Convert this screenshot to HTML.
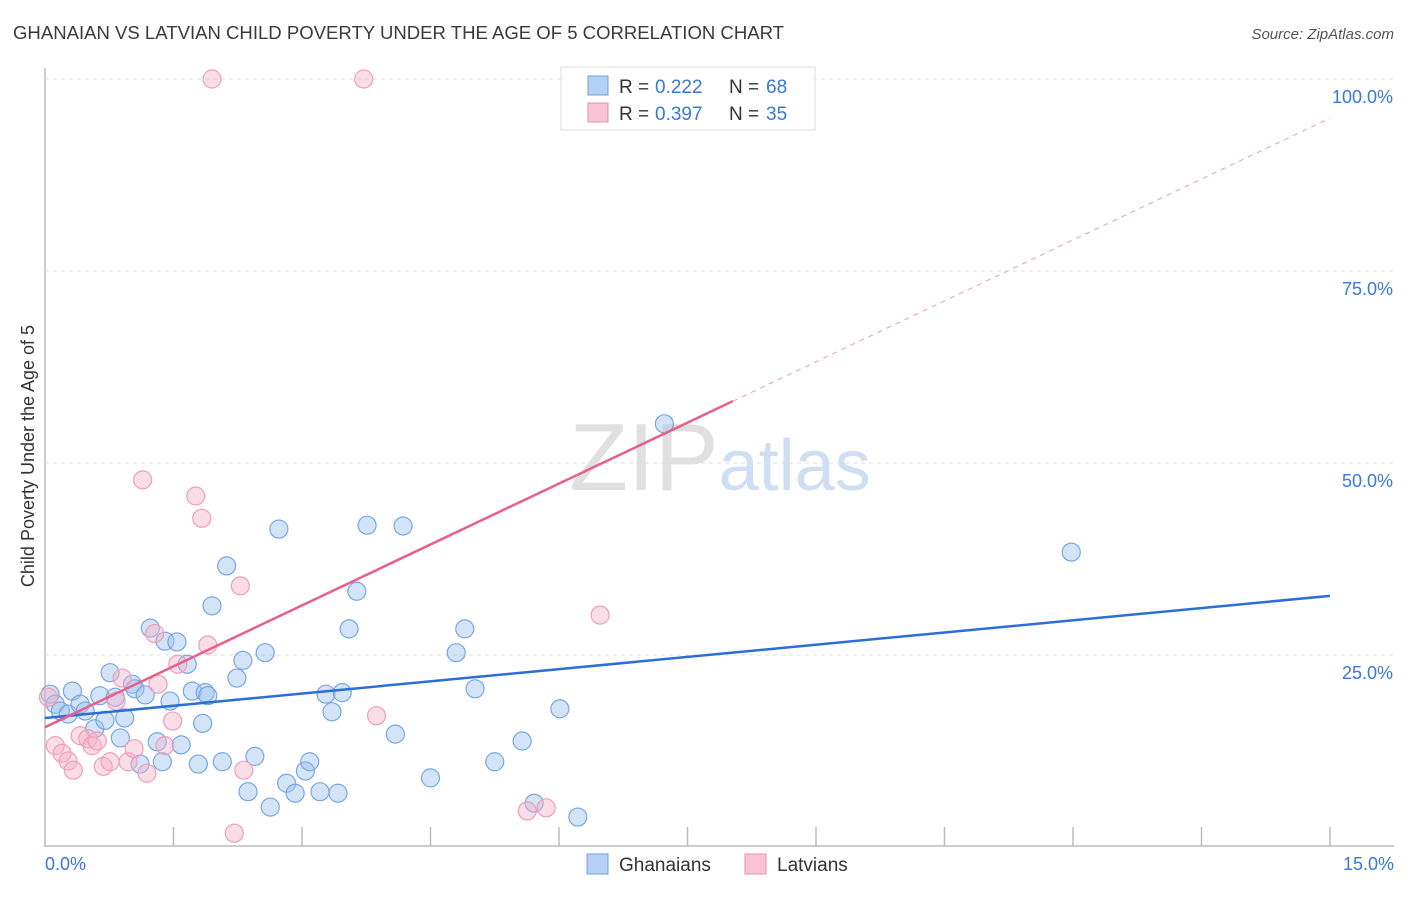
<!DOCTYPE html>
<html><head><meta charset="utf-8"><style>
body{margin:0;background:#fff;font-family:"Liberation Sans",sans-serif;}
svg text{font-family:"Liberation Sans",sans-serif;}
</style></head><body>
<svg id="chart" width="1406" height="892" xmlns="http://www.w3.org/2000/svg">
<text x="13" y="39" font-size="18" fill="#3a3a3a" textLength="771" lengthAdjust="spacingAndGlyphs">GHANAIAN VS LATVIAN CHILD POVERTY UNDER THE AGE OF 5 CORRELATION CHART</text>
<text x="1394" y="39" font-size="15" fill="#555" font-style="italic" text-anchor="end">Source: ZipAtlas.com</text>
<text x="720" y="490" font-size="96" text-anchor="middle" fill="#e0e0e0" font-family="Liberation Serif">ZIP<tspan fill="#d0def2" font-family="Liberation Sans" font-size="72">atlas</tspan></text>
<text transform="translate(34,456) rotate(-90)" font-size="18" fill="#333" text-anchor="middle">Child Poverty Under the Age of 5</text>
<g id="grid"></g><g id="marks"></g><g id="lines"></g>
<g>
<rect x="561" y="67" width="254" height="63" fill="#fff" stroke="#ddd"/>
<rect x="588" y="76" width="20" height="19" fill="#b4d0f4" stroke="#6f9fe0"/>
<rect x="588" y="103" width="20" height="19" fill="#f8c4d4" stroke="#e890aa"/>
<text x="619" y="93" font-size="19" fill="#333">R =</text>
<text x="655" y="93" font-size="19" fill="#3a78d8">0.222</text>
<text x="729" y="93" font-size="19" fill="#333">N =</text>
<text x="766" y="93" font-size="19" fill="#3a78d8">68</text>
<text x="619" y="120" font-size="19" fill="#333">R =</text>
<text x="655" y="120" font-size="19" fill="#3a78d8">0.397</text>
<text x="729" y="120" font-size="19" fill="#333">N =</text>
<text x="766" y="120" font-size="19" fill="#3a78d8">35</text>
</g>
<g>
<rect x="587" y="854" width="21" height="20" fill="#b4d0f4" stroke="#6f9fe0"/>
<text x="619" y="871" font-size="19" fill="#333">Ghanaians</text>
<rect x="745" y="854" width="21" height="20" fill="#f8c4d4" stroke="#e890aa"/>
<text x="777" y="871" font-size="19" fill="#333">Latvians</text>
</g>
</svg>
<script>
const yTicks=[25,50,75,100];
const xTickLabels=["0.0%","15.0%"];
const blueX=[0.06,0.12,0.18,0.32,0.27,0.41,0.47,0.58,0.64,0.7,0.76,0.82,0.88,0.93,1.02,1.05,1.11,1.17,1.23,1.31,1.37,1.4,1.46,1.54,1.59,1.66,1.72,1.79,1.84,1.87,1.90,1.95,2.07,2.12,2.24,2.31,2.37,2.45,2.57,2.63,2.73,2.82,2.92,3.04,3.09,3.21,3.28,3.35,3.42,3.47,3.55,3.64,3.76,4.09,4.18,4.5,4.8,4.9,5.02,5.25,5.57,5.71,6.01,6.22,7.23,11.98];
const blueY=[19.9,18.6,17.7,20.3,17.3,18.6,17.7,15.4,19.7,16.5,22.7,19.5,14.2,16.8,21.2,20.6,10.8,19.8,28.5,13.7,11.1,26.8,19.0,26.7,13.3,23.8,20.3,10.8,16.1,20.1,19.7,31.4,11.1,36.6,22.0,24.3,7.2,11.8,25.3,5.2,41.4,8.3,7.0,9.9,11.1,7.2,19.9,17.6,7.0,20.1,28.4,33.3,41.9,14.7,41.8,9.0,25.3,28.4,20.6,11.1,13.8,5.7,18.0,3.9,55.1,38.4];
const pinkX=[0.04,0.12,0.2,0.27,0.33,0.41,0.5,0.55,0.61,0.68,0.76,0.83,0.9,0.97,1.04,1.14,1.19,1.28,1.32,1.4,1.49,1.55,1.76,1.83,1.9,1.95,2.21,2.28,2.32,3.72,3.87,5.63,5.85,6.48,7.96];
const pinkY=[19.5,13.2,12.2,11.2,10.0,14.5,14.1,13.2,13.8,10.5,11.1,19.0,22.0,11.1,12.8,47.8,9.6,27.8,21.2,13.2,16.4,23.8,45.7,42.8,26.3,100,1.8,34.0,10.0,100,17.1,4.7,5.1,30.2,100];
const blueLine=[16.8,32.7];
const pinkLine=[15.6,94.9];
const xMin=0,xMax=15,yMin=0,yMax=100;
const X=v=>45+(v-xMin)/(xMax-xMin)*1285;
const Y=v=>847-(v-yMin)/(yMax-yMin)*768;
const NS="http://www.w3.org/2000/svg";
function mk(tag,attrs,parent){const e=document.createElementNS(NS,tag);for(const k in attrs)e.setAttribute(k,attrs[k]);parent.appendChild(e);return e;}
const grid=document.getElementById('grid');
mk('line',{x1:45,y1:68,x2:45,y2:847,stroke:'#bbb','stroke-width':1.5},grid);
mk('line',{x1:45,y1:846,x2:1394,y2:846,stroke:'#bbb','stroke-width':1.5},grid);
yTicks.forEach(t=>{
 const l=mk('line',{x1:45,y1:Y(t),x2:1394,y2:Y(t),stroke:'#ddd','stroke-dasharray':'4,4'},grid);
 
 
 const tx=mk('text',{x:1393,y:Y(t)+24,'font-size':18,fill:'#3a78d8','text-anchor':'end'},grid);
 tx.textContent=t.toFixed(1)+'%';
 
 
});
for(let i=1;i<=10;i++){const l=mk('line',{x1:X(i*1.5),y1:827,x2:X(i*1.5),y2:846,stroke:'#bbb','stroke-width':1.5},grid);
 
 }
[[45,'start',0],[1394,'end',1]].forEach(([x,a,i])=>{const t=mk('text',{x:x,y:870,'font-size':18,fill:'#3a78d8','text-anchor':a},grid);t.textContent=xTickLabels[i];
 
 });
const marks=document.getElementById('marks');
blueX.forEach((v,i)=>{const c=mk('circle',{cx:X(v),cy:Y(blueY[i]),r:9,fill:'rgba(160,196,240,0.45)',stroke:'#78a6e2','stroke-width':1.2},marks);
 
 });
pinkX.forEach((v,i)=>{const c=mk('circle',{cx:X(v),cy:Y(pinkY[i]),r:9,fill:'rgba(244,180,200,0.45)',stroke:'#ee9fb6','stroke-width':1.2},marks);
 
 });
const lines=document.getElementById('lines');
const bl=mk('line',{x1:X(0),y1:Y(blueLine[0]),x2:X(15),y2:Y(blueLine[1]),stroke:'#2b6fd6','stroke-width':2.5},lines);


const pe=8.03, py=pinkLine[0]+(pinkLine[1]-pinkLine[0])*pe/15;
const pl=mk('line',{x1:X(0),y1:Y(pinkLine[0]),x2:X(pe),y2:Y(py),stroke:'#e8608a','stroke-width':2.5},lines);


const pd=mk('line',{x1:X(pe),y1:Y(py),x2:X(15),y2:Y(pinkLine[1]),stroke:'#eca0b8','stroke-width':1,'stroke-dasharray':'5,5'},lines);


</script>
</body></html>
